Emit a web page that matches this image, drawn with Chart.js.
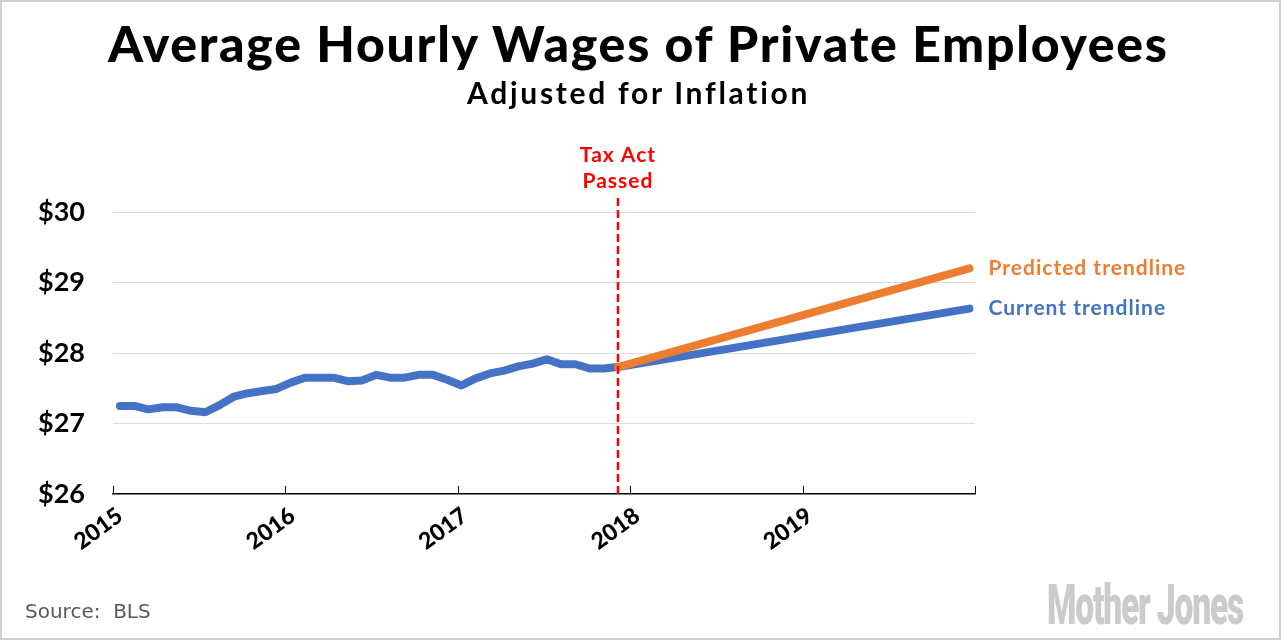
<!DOCTYPE html>
<html>
<head>
<meta charset="utf-8">
<title>Average Hourly Wages of Private Employees</title>
<script src="https://cdn.jsdelivr.net/npm/chart.js@4.4.1/dist/chart.umd.min.js"></script>
<style>
  body { margin: 0; background: #fff; }
  #wrap { position: relative; width: 1281px; height: 640px; overflow: hidden; background: #fff; }
  #chart { position: absolute; left: 0; top: 0; }
  .frame { position: absolute; left: 0; top: 0; width: 1281px; height: 640px; box-sizing: border-box;
           border: 2px solid #cfcfcf; pointer-events: none; }
  .title { position: absolute; color: #000; font-family: Lato, sans-serif; white-space: nowrap; line-height: 1; }
  #t1 { left: 108px; top: 18px; font-size: 50px; font-weight: 900; }
  #t2 { left: 467px; top: 77px; font-size: 30px; font-weight: 700; }
  #source { position: absolute; left: 25px; top: 601px; font: 20px "DejaVu Sans", sans-serif; color: #595959; line-height: 1; }
  #logo { position: absolute; left: 1047px; top: 578px; font: 900 55px Roboto, sans-serif; line-height: 1;
          color: #cbcbcb; letter-spacing: -2px; transform-origin: left top; white-space: nowrap; }
</style>
</head>
<body>
<div id="wrap">
  <canvas id="chart" width="1281" height="640"></canvas>
  <div class="title" id="t1">Average Hourly Wages of Private Employees</div>
  <div class="title" id="t2">Adjusted for Inflation</div>
  <div id="source">Source:&nbsp; BLS</div>
  <div id="logo">Mother Jones</div>
  <div class="frame"></div>
</div>
<script>
// monthly values, Jan 2015 - Dec 2017 (month index 0..35)
const monthIndex = [0, 1, 2, 3, 4, 5, 6, 7, 8, 9, 10, 11,
  12, 13, 14, 15, 16, 17, 18, 19, 20, 21, 22, 23,
  24, 25, 26, 27, 28, 29, 30, 31, 32, 33, 34, 35];
const wages = [27.25, 27.25, 27.20, 27.23, 27.23, 27.18, 27.16, 27.26, 27.38, 27.43, 27.46, 27.49,
  27.58, 27.65, 27.65, 27.65, 27.60, 27.61, 27.69, 27.65, 27.65, 27.69, 27.69, 27.62,
  27.54, 27.64, 27.71, 27.75, 27.81, 27.85, 27.91, 27.84, 27.84, 27.78, 27.78, 27.80];

// trendlines from the tax act to the end of 2019
const trendIndex = [35, 59.7];
const currentTrend = [27.80, 28.63];
const predictedTrend = [27.80, 29.20];

const taxActIndex = 35;
const yearTicks = [2015, 2016, 2017, 2018, 2019, 2020];
const yearLabels = ['2015', '2016', '2017', '2018', '2019', ''];
const dollarTicks = [26, 27, 28, 29, 30];

const BLUE = '#4472C4';
const ORANGE = '#ED7D31';
const RED = '#FF0000';

const toPoints = (xs, ys) => xs.map((x, i) => ({ x: x, y: ys[i] }));

// stretch html text to the width it has in the original
function fitWidth(el, target) {
  const n = el.textContent.length;
  const w = el.getBoundingClientRect().width;
  el.style.letterSpacing = ((target - w) / (n - 1)) + 'px';
}
function squeeze(el, target) {
  const w = el.getBoundingClientRect().width;
  el.style.transform = 'scaleX(' + (target / w) + ')';
}
fitWidth(document.getElementById('t1'), 1059);
fitWidth(document.getElementById('t2'), 341);
squeeze(document.getElementById('logo'), 196);

// red dashed line, annotations, inner tick marks
const extras = {
  id: 'extras',
  afterDatasetsDraw(chart) {
    const { ctx, chartArea, scales } = chart;
    const xm = scales.xm, y = scales.y, yr = scales.x;

    // tick marks pointing up into the plot
    ctx.save();
    ctx.strokeStyle = '#000';
    ctx.lineWidth = 1;
    yearTicks.forEach(v => {
      const px = Math.round(yr.getPixelForValue(v)) + 0.5;
      ctx.beginPath();
      ctx.moveTo(px, chartArea.bottom);
      ctx.lineTo(px, chartArea.bottom - 8);
      ctx.stroke();
    });
    ctx.restore();

    // tax act line
    const tx = xm.getPixelForValue(taxActIndex);
    ctx.save();
    ctx.strokeStyle = RED;
    ctx.lineWidth = 2.5;
    ctx.setLineDash([8, 4]);
    ctx.beginPath();
    ctx.moveTo(tx, chartArea.top - 14);
    ctx.lineTo(tx, chartArea.bottom);
    ctx.stroke();
    ctx.restore();

    ctx.save();
    ctx.fillStyle = RED;
    ctx.font = 'bold 21px Lato, sans-serif';
    ctx.letterSpacing = '1px';
    ctx.textAlign = 'center';
    ctx.textBaseline = 'middle';
    ctx.fillText('Tax Act', tx, 155);
    ctx.fillText('Passed', tx, 181);

    // trendline labels
    const ex = xm.getPixelForValue(trendIndex[1]) + 19;
    ctx.textAlign = 'left';
    ctx.font = 'bold 21px Lato, sans-serif';
    ctx.letterSpacing = '1px';
    ctx.fillStyle = ORANGE;
    ctx.fillText('Predicted trendline', ex, y.getPixelForValue(predictedTrend[1]));
    ctx.fillStyle = BLUE;
    ctx.fillText('Current trendline', ex, y.getPixelForValue(currentTrend[1]));
    ctx.restore();
  }
};

new Chart(document.getElementById('chart'), {
  type: 'line',
  data: {
    datasets: [
      {
        label: 'Predicted trendline',
        data: toPoints(trendIndex, predictedTrend),
        borderColor: ORANGE,
        borderWidth: 8,
        borderCapStyle: 'round',
        pointRadius: 0,
        xAxisID: 'xm',
        order: 0
      },
      {
        label: 'Current trendline',
        data: toPoints(trendIndex, currentTrend),
        borderColor: BLUE,
        borderWidth: 8,
        borderCapStyle: 'round',
        pointRadius: 0,
        xAxisID: 'xm',
        order: 1
      },
      {
        label: 'Average hourly wage',
        data: toPoints(monthIndex, wages),
        borderColor: BLUE,
        borderWidth: 8,
        borderCapStyle: 'round',
        borderJoinStyle: 'round',
        pointRadius: 0,
        tension: 0,
        xAxisID: 'xm',
        order: 2
      }
    ]
  },
  options: {
    responsive: false,
    animation: false,
    layout: { padding: { top: 212, right: 306, left: 0, bottom: 0 } },
    plugins: {
      legend: { display: false },
      tooltip: { enabled: false }
    },
    scales: {
      xm: {
        type: 'linear',
        display: false,
        min: -0.49,
        max: 60.09
      },
      x: {
        type: 'linear',
        position: 'bottom',
        min: 2015,
        max: 2020,
        afterBuildTicks: s => { s.ticks = yearTicks.map(v => ({ value: v })); },
        afterFit: s => { s.height = 146; },
        grid: { drawOnChartArea: false, drawTicks: false },
        border: { display: true, color: '#000', width: 1.5 },
        ticks: {
          maxRotation: 36,
          minRotation: 36,
          padding: 8,
          labelOffset: 7,
          color: '#000',
          font: { family: 'Lato', weight: '900', size: 23 },
          callback: (v, i) => yearLabels[i]
        }
      },
      y: {
        min: 26,
        max: 30,
        afterBuildTicks: s => { s.ticks = dollarTicks.map(v => ({ value: v })); },
        afterFit: s => { s.width = 113; },
        border: { display: false },
        grid: {
          drawTicks: false,
          color: ctx => ctx.tick && ctx.tick.value === 26 ? 'rgba(0,0,0,0)' : '#dcdcdc',
          lineWidth: 1
        },
        ticks: {
          padding: 28,
          color: '#000',
          font: { family: 'Lato', weight: 'bold', size: 27 },
          callback: v => '$' + v
        }
      }
    }
  },
  plugins: [extras]
});
</script>
</body>
</html>
